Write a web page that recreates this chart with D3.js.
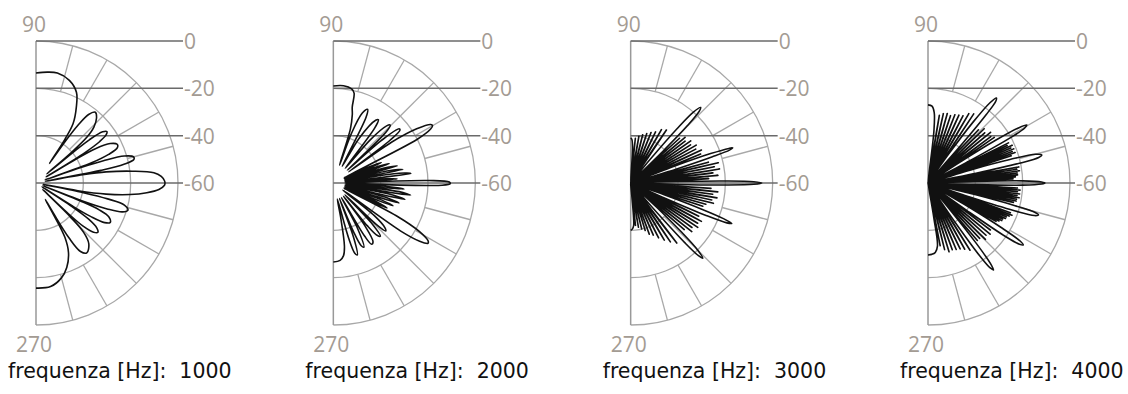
<!DOCTYPE html>
<html>
<head>
<meta charset="utf-8">
<script src="https://cdn.jsdelivr.net/npm/d3@7"></script>
<style>
  body { margin: 0; background: #fff; }
  svg { display: block; }
</style>
</head>
<body>
<svg id="chart" width="1128" height="394"></svg>
<script>
// frequencies shown, one half-polar panel each
const frequencies = [1000, 2000, 3000, 4000];
// level rings / horizontal reference lines (dB)
const dbTicks = [0, -20, -40, -60];
// angle labels at the ends of the vertical axis
const angleTop = "90";
const angleBottom = "270";

// directivity [angle deg (90 = up, 0 = right, -90 = down), level dB]
const pattern1000 = [
  [90, -13.5], [84, -12.9], [79, -12.7], [72, -14.4], [66, -18], [62, -23.7], [58, -30.4], [56.5, -38], [55.5, -50],
  [55, -40], [54, -30], [52.5, -23.5], [50, -21], [47, -22.5], [44, -26], [42, -31], [40.8, -40], [40, -54],
  [39.6, -40], [39, -31], [37.5, -24.5], [36, -23], [34.5, -24], [33, -28], [31.8, -36], [31.2, -55],
  [30.8, -40], [30, -31], [28, -24.5], [25.5, -22], [23.5, -22.5], [21.5, -27], [20, -35], [19.4, -56],
  [19, -40], [18.3, -30], [17, -21], [15, -17.3], [13.5, -17.5], [12, -22], [11, -32], [10.5, -56],
  [10, -40], [9, -30], [7, -19], [5, -10], [3, -7], [1, -5.7], [0, -5.5], [-1, -5.7], [-3, -8], [-5, -13], [-7, -20], [-9, -30], [-10.5, -42], [-11, -57],
  [-11.5, -40], [-12.5, -29], [-14, -21.5], [-16.5, -19.5], [-18.5, -21.5], [-20, -28], [-21, -38], [-21.5, -57],
  [-22, -40], [-23, -31], [-25, -26], [-28, -24.5], [-30, -26.5], [-31.5, -33], [-32.3, -42], [-32.8, -57],
  [-33.3, -42], [-34.5, -33], [-36.5, -28], [-38.5, -26.6], [-40.5, -28], [-42.5, -33], [-43.5, -42], [-44, -56],
  [-44.5, -40], [-46, -31], [-49, -26], [-54, -23.5], [-57, -25.5], [-59, -33], [-60, -45], [-60.5, -52],
  [-61, -45], [-62, -34], [-65, -27.5], [-70, -22], [-75, -18.5], [-82, -15.8], [-90, -15.6]
];

const pattern2000 = [
  [90, -19], [84, -18.7], [79, -19.5], [77, -21], [76, -27], [74.5, -30], [72.5, -36], [71, -52],
  [70, -38], [67.5, -28], [65, -25.7], [63.5, -29], [62, -52],
  [60, -38], [56, -28], [54.5, -27.2], [53, -31], [51, -52],
  [49.5, -36], [47, -27], [45.5, -25.7], [44, -29], [42.5, -52],
  [41.5, -33], [39.5, -24], [38.5, -24], [37, -30], [36, -52],
  [35, -30], [33, -18], [31, -12], [30, -11.6], [29, -13], [27.5, -20], [26, -55],
  [24.5, -45], [23, -38], [21.5, -55],
  [20.5, -40], [19, -35], [17.5, -55],
  [16.5, -38], [15, -32], [13.5, -55],
  [12.5, -36], [11, -30], [9.5, -55],
  [8.5, -32], [7, -27], [5.5, -55],
  [4.5, -38], [3.5, -33], [2.5, -55],
  [1.5, -20], [0.5, -11], [-0.3, -10.6], [-1.2, -14], [-2.2, -55],
  [-3.5, -38], [-5, -30], [-6.5, -55],
  [-7.5, -32], [-9, -27], [-10.5, -55],
  [-11.5, -34], [-13, -29], [-14.5, -55],
  [-15.5, -36], [-17, -31], [-18.5, -55],
  [-19.5, -38], [-21, -33], [-22.5, -55],
  [-23.5, -40], [-25, -35], [-26.5, -55],
  [-27.5, -30], [-29.5, -18], [-31.5, -13], [-32.5, -12.6], [-34, -16], [-35.5, -25], [-37, -55],
  [-38.5, -38], [-41, -31], [-42.5, -30], [-44, -35], [-45.5, -53],
  [-46.5, -36], [-48.5, -30], [-50, -31], [-51.5, -37], [-52.5, -53],
  [-53.5, -38], [-56, -30], [-58, -29.5], [-59.5, -34], [-61, -53],
  [-62, -38], [-64.5, -30], [-66, -31], [-67.5, -38], [-68.5, -53],
  [-69.5, -36], [-71.5, -28], [-73, -29], [-74.5, -36], [-76, -53],
  [-78, -45], [-80, -33], [-82, -29], [-85, -27.2], [-90, -26.6]
];

const pattern3000 = [
  [90, -41], [88.5, -41.5], [87, -45], [86, -60],
  [84, -41], [82, -60], [80, -40], [78, -60], [76, -39], [74, -60],
  [72, -38], [70, -60], [68, -37], [66, -60], [64, -36], [62, -60],
  [60, -34], [58, -60], [56, -33], [54, -60],
  [50.5, -48], [49.5, -30], [48.5, -20], [47.2, -16.5], [46.3, -18], [45.3, -26], [44.5, -40], [44, -60],
  [42.5, -32], [41.3, -60], [40, -30], [38.8, -60], [37.5, -31], [36.3, -60],
  [35, -29], [33.8, -60], [32.5, -30], [31.3, -60], [30, -28], [28.8, -60],
  [27.5, -29], [26.3, -60], [25, -27], [23.8, -60], [22.5, -28], [21.5, -60],
  [21, -40], [20.2, -24], [19.4, -16], [19, -14.4], [18.4, -16], [17.8, -24], [17, -40], [16.5, -60],
  [15, -26], [14, -60], [13, -22], [12, -60], [11, -24], [10, -60], [9, -22], [8, -60],
  [7, -25], [6, -60], [5, -23], [4.1, -60], [3.2, -27], [2.4, -60],
  [1.8, -40], [1.2, -20], [0.6, -8], [0, -4.6], [-0.6, -8], [-1.2, -20], [-1.8, -40], [-2.3, -60],
  [-3.8, -26], [-4.8, -60], [-5.8, -23], [-6.8, -60], [-7.8, -25], [-8.8, -60],
  [-9.8, -23], [-10.8, -60], [-11.8, -25], [-12.8, -60], [-13.8, -24], [-14.8, -60],
  [-15.8, -27], [-16.8, -60], [-17.8, -28], [-18.8, -60],
  [-19.3, -45], [-20.2, -28], [-21, -18], [-21.8, -14], [-22.5, -16], [-23.3, -25], [-24, -45], [-24.5, -60],
  [-26, -28], [-27.3, -60], [-28.5, -26], [-29.8, -60], [-31, -27], [-32.3, -60],
  [-33.5, -26], [-34.8, -60], [-36, -28], [-37.3, -60], [-38.5, -27], [-39.8, -60],
  [-41, -30], [-42.3, -60],
  [-43, -45], [-44, -30], [-45, -20], [-46.2, -16], [-47, -18], [-47.8, -26], [-48.5, -45], [-49, -60],
  [-52.5, -28], [-54.3, -60], [-56, -30], [-57.8, -60], [-59.5, -32], [-61.3, -60],
  [-63, -34], [-64.8, -60], [-66.5, -36], [-68.3, -60], [-70, -37], [-71.5, -60],
  [-73, -39], [-74.8, -60], [-76.5, -40], [-78.3, -60], [-80, -41], [-81.8, -60],
  [-83.5, -42], [-85, -60],
  [-86, -42], [-88, -40.5], [-90, -40]
];

const pattern4000 = [
  [90, -27], [87, -27.5], [85, -30], [83.5, -38], [82.5, -60],
  [80.5, -31], [79, -60], [77.5, -30], [76, -60], [74.5, -29.5], [73, -60],
  [71.5, -30], [70, -60], [68.5, -29], [67, -60], [65.5, -28.5], [64, -60],
  [62.5, -28], [61, -60], [59.5, -26], [58, -60], [56.5, -25], [55.2, -60],
  [54.5, -45], [53.5, -28], [52.3, -17], [51.2, -13.9], [50.4, -15], [49.6, -22], [48.8, -40], [48.3, -60],
  [46.5, -29], [45.3, -60], [44, -27], [42.8, -60], [41.5, -28], [40.3, -60],
  [39, -26], [37.8, -60], [36.5, -27], [35.5, -60], [34.5, -26], [33.8, -60],
  [33.2, -45], [32.3, -26], [31.3, -15], [30.4, -11.6], [29.6, -13], [28.8, -20], [28, -40], [27.5, -60],
  [26.5, -22], [25.9, -60], [25.3, -23], [24.7, -60], [24.1, -21], [23.5, -60],
  [22.9, -22], [22.3, -60], [21.7, -21], [21.1, -60], [20.5, -22], [19.9, -60],
  [19.3, -21], [18.7, -60], [18.1, -23], [17.5, -60],
  [17, -40], [16, -24], [15, -13], [13.8, -10.5], [13, -12], [12.2, -20], [11.5, -40], [11, -60],
  [10, -21], [9.4, -60], [8.8, -22], [8.2, -60], [7.6, -21], [7, -60],
  [6.4, -22], [5.8, -60], [5.2, -22], [4.6, -60], [4, -23], [3.4, -60], [2.8, -24], [2.4, -60],
  [2, -40], [1.3, -20], [0.5, -12], [0, -10.6], [-0.5, -12], [-1.3, -20], [-2, -40], [-2.5, -60],
  [-3.2, -22], [-3.8, -60], [-4.4, -21], [-5, -60], [-5.6, -22], [-6.2, -60],
  [-6.8, -21], [-7.4, -60], [-8, -22], [-8.6, -60], [-9.2, -21], [-9.8, -60],
  [-10.4, -22], [-11, -60], [-11.6, -22], [-12.2, -60], [-12.8, -23], [-13.4, -60],
  [-13.8, -40], [-14.6, -22], [-15.4, -13], [-16.2, -11.4], [-17, -13], [-17.8, -22], [-18.5, -40], [-19, -60],
  [-19.8, -23], [-20.4, -60], [-21, -22], [-21.6, -60], [-22.2, -23], [-22.8, -60],
  [-23.4, -24], [-24, -60], [-24.6, -24], [-25.2, -60], [-25.8, -25], [-26.4, -60],
  [-27, -25], [-27.6, -60], [-28.2, -26], [-28.8, -60], [-29.4, -27], [-30, -60],
  [-30.5, -40], [-31.3, -24], [-32.2, -14], [-33, -12], [-33.8, -13.5], [-34.6, -20], [-35.3, -40], [-35.8, -60],
  [-37, -27], [-38.3, -60], [-39.5, -26], [-40.8, -60], [-42, -27], [-43.3, -60],
  [-44.5, -26], [-45.8, -60], [-47, -28], [-48.2, -60], [-49.3, -28], [-50, -60],
  [-50.5, -45], [-51.3, -28], [-52.2, -17], [-53, -14], [-53.8, -15.5], [-54.6, -22], [-55.4, -40], [-56, -60],
  [-58, -26.5], [-59.5, -60], [-61, -28], [-62.5, -60], [-64, -29], [-65.5, -60],
  [-67, -29.5], [-68.5, -60], [-70, -30], [-71.5, -60], [-73, -29.6], [-74.5, -60],
  [-76, -31], [-77.5, -60], [-79, -33], [-80, -60],
  [-80.5, -45], [-81.5, -33], [-84, -30.5], [-87, -29.8], [-90, -29.6]
];

const patterns = [pattern1000, pattern2000, pattern3000, pattern4000];

// spokes of the polar grid (deg): outer band every 15, middle band at 45
const outerSpokes = [75, 60, 45, 30, 15, -15, -30, -45, -60, -75];
const middleSpokes = [45, -45];

const svg = d3.select("#chart");

const attr_area = {
  radius: 142,
  centerY: 183,
  firstX: 36,
  lastX: 928,
  lineEnd: 147,
};

const scX = d3.scaleLinear().domain([0, frequencies.length - 1]).range([attr_area.firstX, attr_area.lastX]);
const scR = d3.scaleLinear().domain([-60, 0]).range([0, attr_area.radius]).clamp(true);
const rad = (deg) => ((90 - deg) * Math.PI) / 180;

function drawGrid(g) {
  // rings as right half circles
  dbTicks.filter((d) => d > -60).forEach((d) => {
    const p = d3.path();
    p.arc(0, 0, scR(d), -Math.PI / 2, Math.PI / 2);
    g.append("path").attr("d", p.toString())
      .attr("fill", "none").attr("stroke", "#a8a8a8").attr("stroke-width", 1.3);
  });

  const spoke = (deg, r0, r1) => {
    const a = (deg * Math.PI) / 180;
    g.append("line")
      .attr("x1", r0 * Math.cos(a)).attr("y1", -r0 * Math.sin(a))
      .attr("x2", r1 * Math.cos(a)).attr("y2", -r1 * Math.sin(a))
      .attr("stroke", "#a8a8a8").attr("stroke-width", 1.3);
  };
  outerSpokes.forEach((d) => spoke(d, scR(-20), scR(0)));
  middleSpokes.forEach((d) => spoke(d, scR(-40), scR(-20)));

  // vertical axis
  g.append("line")
    .attr("x1", 0).attr("x2", 0)
    .attr("y1", -attr_area.radius).attr("y2", attr_area.radius)
    .attr("stroke", "#999").attr("stroke-width", 1.5);

  // horizontal level lines with labels
  dbTicks.forEach((d) => {
    const y = -scR(d);
    g.append("line")
      .attr("x1", 0).attr("x2", attr_area.lineEnd)
      .attr("y1", y).attr("y2", y)
      .attr("stroke", "#6a6a6a").attr("stroke-width", 1.5);
    g.append("text")
      .attr("x", attr_area.lineEnd + 1).attr("y", y + 8)
      .attr("font-family", "'Open Sans', sans-serif").attr("font-size", 21)
      .attr("fill", "#a39b93")
      .text(d);
  });

  g.append("text").attr("x", -2).attr("y", -attr_area.radius - 9)
    .attr("text-anchor", "middle")
    .attr("font-family", "'Open Sans', sans-serif").attr("font-size", 21)
    .attr("fill", "#a39b93").text(angleTop);
  g.append("text").attr("x", -2).attr("y", attr_area.radius + 27)
    .attr("text-anchor", "middle")
    .attr("font-family", "'Open Sans', sans-serif").attr("font-size", 21)
    .attr("fill", "#a39b93").text(angleBottom);
}

function drawPattern(g, data) {
  const line = d3.lineRadial()
    .angle((d) => rad(d[0]))
    .radius((d) => scR(d[1]))
    .curve(d3.curveCatmullRom.alpha(0.5));
  g.append("path")
    .datum(data)
    .attr("d", line)
    .attr("fill", "none")
    .attr("stroke", "#111")
    .attr("stroke-width", 1.6)
    .attr("stroke-linejoin", "round");
}

frequencies.forEach((f, i) => {
  const g = svg.append("g")
    .attr("transform", `translate(${scX(i)}, ${attr_area.centerY})`);
  drawGrid(g);
  drawPattern(g, patterns[i]);
  g.append("text")
    .attr("x", -28).attr("y", 195)
    .attr("font-family", "'DejaVu Sans', sans-serif").attr("font-size", 20.5)
    .attr("fill", "#111")
    .style("white-space", "pre")
    .text(`frequenza [Hz]:  ${f}`);
});
</script>
</body>
</html>
